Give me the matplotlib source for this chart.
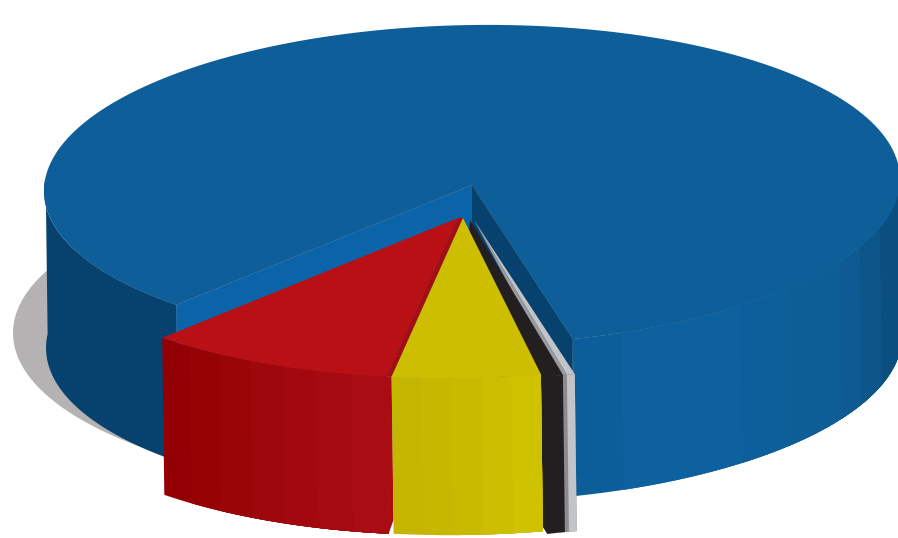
import numpy as np
import matplotlib
matplotlib.use('Agg')
import matplotlib.pyplot as plt

# slice shares in percent
labels = ['blue', 'grey', 'black', 'yellow', 'red']
values = [84.07, 0.30, 0.57, 5.58, 9.47]

top_colors = ['#0d5e99', '#c3c4c8', '#231f20', '#cdbf00', '#b81015']
blue_side = ['#0c5e9b', '#0e619f', '#0d5f9c', '#0d5d97', '#0d5b92', '#0c5588', '#0a4f80']
blue_edges = [76.5, 69.5, 51, 42.8, 30.7, 25, 17.6, -5]
grey_side = ['#8c8c90', '#c3c4c8']
yellow_side = ['#c4b600', '#c6b800', '#c9ba00', '#ccbe00', '#cfc200']
red_side = ['#930003', '#960305', '#9a0508', '#9e070b', '#a2090e', '#a60a11', '#aa0c14']

# layout, in pixels of the 898x538 picture
W, H = 898, 538
cx, cy = 472, 185
rx, ry = 428, 160
tilt = -6
thick = 157
lean = 2
start_angle = 133.7  # screen degrees, y pointing down
under = 1.3  # black and grey run a bit under their neighbour
offsets = {'grey': (2, 35), 'black': (-2, 35), 'yellow': (-9, 33), 'red': (-14, 33)}

fig = plt.figure(figsize=(W / 100, H / 100), dpi=100)
ax = fig.add_axes([0, 0, 1, 1])
ax.set_xlim(0, W)
ax.set_ylim(H, 0)
ax.axis('off')


def rim(a0, a1, off=(0, 0), n=60):
    t = np.radians(np.linspace(a0, a1, n))
    x = cx + off[0] + rx * np.cos(t)
    y = cy + off[1] + ry * np.sin(t) + tilt * np.cos(t)
    return x, y


def side(edges, off, colors):
    # front wall, painted band over band so no seams show
    for i, col in enumerate(colors):
        x, y = rim(edges[i], edges[-1], off, 40)
        ax.fill(np.r_[x, x[::-1] + lean], np.r_[y, y[::-1] + thick], color=col, lw=0)


def top(a0, a1, off, col):
    x, y = rim(a0, a1, off, 200)
    ax.fill(np.r_[cx + off[0], x], np.r_[cy + off[1], y], color=col, lw=0)


# angles, anticlockwise on screen from the edge of the blue slice
spans = np.array(values) / sum(values) * 360
blue_a0 = start_angle
blue_a1 = start_angle + spans[0]
grey_a0 = blue_a1 - 360
grey_a1 = grey_a0 + spans[1]
black_a1 = grey_a1 + spans[2]
yellow_a1 = black_a1 + spans[3]
red_a1 = yellow_a1 + spans[4]

# shadow under the pie
t = np.radians(np.linspace(0, 360, 300))
ax.fill(441 + rx * np.cos(t), 333 + ry * np.sin(t), color='#b5b2b3', lw=0)

# blue: rim left and right of the gap
x, y = rim(blue_a0, 185)
ax.fill(np.r_[x, x[::-1] + lean], np.r_[y, y[::-1] + thick], color='#07426f', lw=0)
side([grey_a0] + blue_edges[1:], (0, 0), blue_side)
top(blue_a0, blue_a1, (0, 0), top_colors[0])

# inner walls of the blue slice
x0, y0 = rim(blue_a0, blue_a0, (0, 0), 1)
x1, y1 = rim(grey_a0, grey_a0, (0, 0), 1)
ax.fill([cx, x0[0], x0[0], cx], [cy, y0[0], y0[0] + thick, cy + thick], color='#0b63a8', lw=0)
ax.fill([cx, x1[0], x1[0], cx], [cy, y1[0], y1[0] + thick, cy + thick], color='#07426f', lw=0)

# red
off = offsets['red']
side(np.linspace(red_a1, yellow_a1, len(red_side) + 1), off, red_side)
top(yellow_a1, red_a1, off, top_colors[4])
xr, yr = rim(yellow_a1, yellow_a1, off, 1)
xy, yy = rim(yellow_a1, yellow_a1, offsets['yellow'], 1)
ax.fill([cx + off[0], xr[0], xy[0], cx + offsets['yellow'][0]],
        [cy + off[1], yr[0], yy[0], cy + offsets['yellow'][1]], color='#a80b11', lw=0)
ax.fill([xr[0], xy[0], xy[0] + lean, xr[0] + lean],
        [yr[0], yy[0], yy[0] + thick - 14, yr[0] + thick], color=red_side[-1], lw=0)

# grey, its darker band sits next to the black slice
off = offsets['grey']
side([grey_a1 + under, grey_a1, grey_a0], off, grey_side)
top(grey_a1, grey_a1 + under, off, '#9a9a9e')
top(grey_a0, grey_a1, off, top_colors[1])

# black, lower left corner cut off
off = offsets['black']
top(grey_a1, black_a1 + under, off, top_colors[2])
x, y = rim(black_a1 + under, grey_a1, off, 20)
ax.fill(np.r_[x, x[-1] + lean, x[0] + 9, x[0]],
        np.r_[y, y[-1] + thick, y[0] + thick, y[0] + thick - 14],
        color=top_colors[2], lw=0)
# closes the gap to the yellow edge just below the tip
xc, yc = rim(black_a1, black_a1, offsets['yellow'], 1)
ya_x, ya_y = cx + offsets['yellow'][0], cy + offsets['yellow'][1]
ax.fill([cx + off[0], ya_x + 0.08 * (xc[0] - ya_x), xc[0]],
        [cy + off[1], ya_y + 0.08 * (yc[0] - ya_y), yc[0]], color=top_colors[2], lw=0)

# yellow
off = offsets['yellow']
side(np.linspace(yellow_a1, black_a1, len(yellow_side) + 1), off, yellow_side)
top(black_a1, yellow_a1, off, top_colors[3])

fig.savefig('out.png', dpi=100, facecolor='white')
